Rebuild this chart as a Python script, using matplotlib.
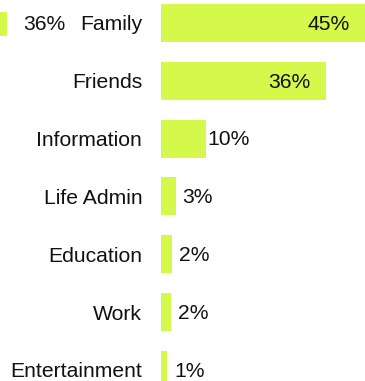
import matplotlib.pyplot as plt

plt.rcParams['font.family'] = ['Liberation Sans', 'DejaVu Sans']

categories = ["Family", "Friends", "Information", "Life Admin",
              "Education", "Work", "Entertainment"]
values = [44.6, 36.0, 9.8, 3.2, 2.3, 2.2, 1.3]

# neighbouring panel, only its first bar reaches into view
prev_categories = ["Family"]
prev_values = [36.0]

BAR_COLOR = "#d4f94b"
W, H = 365, 381
PX_PER_PCT = 4.58
ROW_PX = 57.8
FIRST_ROW_PX = 23

fig = plt.figure(figsize=(W / 100, H / 100), dpi=100)

# y mapping shared by both panels: row i centred at FIRST_ROW_PX + i * ROW_PX
ylim = ((H - FIRST_ROW_PX) / ROW_PX, -FIRST_ROW_PX / ROW_PX)

left_px = 161
ax = fig.add_axes([left_px / W, 0, 1 - left_px / W, 1])
ax.barh(range(len(values)), values, height=0.66, color=BAR_COLOR)
ax.set_xlim(0, (W - left_px) / PX_PER_PCT)
ax.set_ylim(*ylim)
ax.set_yticks(range(len(categories)))
ax.set_yticklabels(categories, fontsize=15.2, color="#111111")
ax.tick_params(axis="y", length=0, pad=13.5)
ax.set_xticks([])
for s in ax.spines.values():
    s.set_visible(False)

for i, v in enumerate(values):
    txt = f"{v:.0f}%"
    if v > 20:
        ax.annotate(txt, (v, i), xytext=(-11, -1), textcoords="offset points",
                    ha="right", va="center", fontsize=15.2, color="#111111")
    else:
        ax.annotate(txt, (v, i), xytext=(16, -1), textcoords="offset points",
                    ha="center", va="center", fontsize=15.2, color="#111111")

# left panel: same scale, its axes run off the left edge of the figure
ax_prev = fig.add_axes([0, 0, left_px / W, 1])
span = left_px / PX_PER_PCT
ax_prev.barh(range(len(prev_values)), prev_values, height=0.43, color=BAR_COLOR)
ax_prev.set_xlim(prev_values[0] - 7.3 / PX_PER_PCT,
                 prev_values[0] - 7.3 / PX_PER_PCT + span)
ax_prev.set_ylim(ylim[0], ylim[1] - 0.02)
ax_prev.axis("off")
for i, v in enumerate(prev_values):
    ax_prev.annotate(f"{v:.0f}%", (v, i), xytext=(11.3, 0), textcoords="offset points",
                     ha="left", va="center", fontsize=15.2, color="#111111")

fig.savefig("out.png", dpi=100)
